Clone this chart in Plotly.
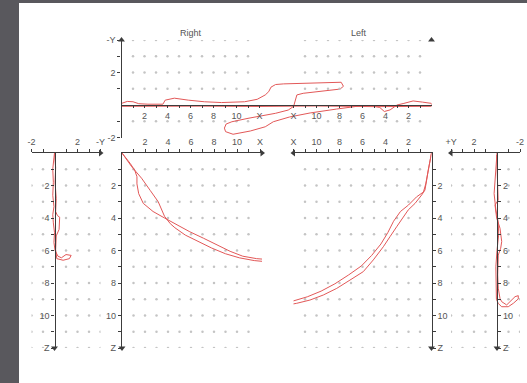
import numpy as np
import plotly.graph_objects as go

# ---------------- data ----------------
# Top panel (X-Y view). Right-eye units on x, left-eye units on x2
TOP_R_X = [0, 0.5, 1.0, 1.5, 2.3, 3.3, 3.6, 3.8, 4.6, 5.8, 7.2, 8.7, 10.7, 11.8,
           12.1, 12.5, 12.8, 13.0, 13.4, 14.1, 19.1, 19.3, 19.0, 15.8, 15.25, 15.1, 15.0,
           14.9, 14.5, 13.4, 12.5, 11.0, 9.6, 9.1, 8.95, 9.05, 9.7, 11.2, 12.5, 13.2,
           14.6, 16.4, 18.7, 20.7]
TOP_R_Y = [0.1, 0.22, 0.2, 0.08, 0.05, 0.02, 0.05, 0.3, 0.42, 0.3, 0.2, 0.15, 0.2, 0.35,
           0.45, 0.62, 0.82, 1.1, 1.26, 1.3, 1.4, 1.15, 0.98, 0.72, 0.62, 0.2, 0.0,
           -0.12, -0.31, -0.51, -0.62, -0.82, -1.03, -1.17, -1.42, -1.64, -1.8, -1.6, -1.34, -1.03,
           -0.74, -0.49, -0.25, -0.06]
TOP_L_X = [6.3, 5.2, 4.5, 4.1, 3.6, 3.0, 2.4, 1.6, 0.8, 0.3, 0.0, 0.0, 5, 10, 15, 20, 26.96]
TOP_L_Y = [-0.05, -0.05, -0.15, -0.4, -0.3, 0.0, 0.1, 0.25, 0.18, 0.12, 0.1, -0.08, -0.1, -0.06, -0.09, -0.07, -0.08]

# Bottom X-Z view, right eye (right-eye units)
XZ_R_X = [0, 0.4, 0.7, 1.1, 1.3, 1.3, 1.45, 1.85, 2.7, 3.7, 4.8, 5.9, 7.1, 8.2, 9.4, 10.5, 11.7,
          13.4, 14.9, 16.3, 17.8, 19.2,
          19.0, 17.5, 16.0, 14.5, 13.0, 11.5, 10.2, 9.0, 7.8, 6.6, 5.5, 4.6, 4.2, 3.7, 3.15,
          2.45, 1.7, 0.85, 0.25, 0]
XZ_R_Z = [0, 0.33, 0.63, 1.05, 1.46, 1.9, 2.5, 3.1, 3.6, 4.0, 4.45, 4.85, 5.25, 5.65, 6.05, 6.35, 6.5,
          6.6, 6.65, 6.55, 6.4, 6.25,
          6.35, 6.55, 6.72, 6.75, 6.72, 6.62, 6.45, 6.2, 5.85, 5.45, 5.05, 4.6, 4.35, 3.9, 3.0,
          2.3, 1.55, 0.85, 0.25, 0]

# Bottom X-Z view, left eye (left-eye units)
XZ_L_X = [0, 0.13, 0.28, 0.42, 0.57, 0.85, 1.43, 2.02, 2.45, 3.03, 3.61, 4.19, 5.06, 5.93, 7.09,
          8.24, 9.41, 10.57, 11.72, 12.89, 14.33, 15.78, 17.23, 17.96,
          17.9, 16.5, 15.0, 13.5, 12.0, 10.8, 9.6, 8.4, 7.2, 6.1, 5.2, 4.4, 3.8, 3.3, 2.7,
          2.0, 1.3, 0.7, 0.5, 0.35, 0.2, 0]
XZ_L_Z = [0, 0.43, 1.05, 1.66, 2.28, 2.58, 3.1, 3.5, 3.92, 4.54, 5.15, 5.77, 6.58, 7.3, 7.82,
          8.33, 8.74, 9.05, 9.25, 9.4, 9.35, 9.19, 8.94, 8.74,
          8.6, 8.95, 9.15, 9.25, 9.1, 8.85, 8.5, 8.05, 7.5, 6.95, 6.3, 5.6, 4.9, 4.2, 3.6,
          3.2, 2.7, 2.4, 1.9, 1.3, 0.6, 0]

# Left Y-Z view (right eye)
YZ_R_Y = [0, 0.1, 0.05, 0.15, 0.1, 0.25, 0.45, 0.4, 0.15, 0.15, 0.1, 0.2, 0.75, 1.3, 1.45, 1.0, 0.6, 0.3,
          0.05, -0.05, 0.0, -0.1, -0.15, -0.05, -0.15, -0.1, -0.15, -0.05, 0]
YZ_R_Z = [0, 0.9, 1.8, 2.8, 3.6, 3.85, 3.95, 4.7, 5.1, 5.6, 5.95, 6.5, 6.6, 6.5, 6.3, 6.25, 6.45, 6.35,
          6.0, 5.5, 4.9, 4.3, 3.8, 3.3, 2.6, 1.8, 1.0, 0.3, 0]

# Right Y-Z view (left eye)
YZ_L_Y = [0.03, -0.1, 0.17, 0.03, -0.26, -0.41, -0.32, -0.11, -0.06, -0.11, -0.26, -0.41, -0.84,
          -1.13, -1.57, -1.85, -1.85, -1.42, -0.98, -0.41, -0.11,
          0.05, 0.1, 0.1, 0.0, -0.15, -0.1, 0.1, 0.25, 0.15, 0.1, 0]
YZ_L_Z = [0.12, 2.9, 3.2, 4.0, 4.63, 5.45, 5.86, 6.28, 7.5, 8.32, 8.95, 9.15, 9.35,
          9.15, 8.84, 8.78, 8.98, 9.25, 9.46, 9.46, 9.26,
          9.0, 8.0, 7.0, 6.0, 5.0, 4.2, 3.5, 2.5, 1.5, 0.6, 0]

X_TICKS = list(range(1, 13))
X_LABELS = ['', '2', '', '4', '', '6', '', '8', '', '10', '', 'X']
Z_TICKS = list(range(1, 13))
Z_LABELS = ['', '2', '', '4', '', '6', '', '8', '', '10', '', 'Z']
Y_TICKS = [-2, -1, 1, 2, 3, 4]
Y_LABELS_NEG = ['-2', '', '', '2', '', '-Y']
Y_LABELS_POS = ['-2', '', '', '2', '', '+Y']

# ---------------- layout geometry ----------------
W, H = 527, 383
PXU = 11.5      # px per unit horizontally
def fx(px): return px / W
def fy(py): return 1 - py / H

TOP_SPAN = (431.5 - 121.5) / PXU
RED = 'rgb(226,88,88)'
AX = '#3c3c3c'
TXT = '#555555'
DOT = '#c4c4c4'
FONT = dict(family='Liberation Sans, Arial', size=9, color=TXT)

fig = go.Figure()

def line(x, y, xa, ya):
    fig.add_trace(go.Scatter(x=x, y=y, xaxis=xa, yaxis=ya, mode='lines',
                             line=dict(color=RED, width=1), hoverinfo='skip',
                             showlegend=False))

def dots(xs, ys, xa, ya):
    gx, gy = np.meshgrid(xs, ys)
    fig.add_trace(go.Scatter(x=gx.ravel(), y=gy.ravel(), xaxis=xa, yaxis=ya, mode='markers',
                             marker=dict(color=DOT, size=2.5, line=dict(width=0)),
                             hoverinfo='skip', showlegend=False))

def arrow(x, y, xa, ya, sym):
    fig.add_trace(go.Scatter(x=[x], y=[y], xaxis=xa, yaxis=ya, mode='markers',
                             marker=dict(color=AX, size=6, symbol=sym, line=dict(width=0)),
                             cliponaxis=False, hoverinfo='skip', showlegend=False))

units = np.arange(1, 12)
zrows = np.arange(1, 13)
yrows = np.array([-2, -1, 1, 2, 3, 4])
top_rows = np.array([-1, 1, 2, 3, 4])

# grid dots
dots(units, top_rows, 'x', 'y')
dots(units, top_rows, 'x2', 'y')
dots(units, zrows, 'x3', 'y3')
dots(units, zrows, 'x4', 'y4')
dots(yrows, zrows, 'x5', 'y5')
dots(yrows, zrows, 'x6', 'y6')

# traces
line(TOP_R_X, TOP_R_Y, 'x', 'y')
line(TOP_L_X, TOP_L_Y, 'x2', 'y')
line(XZ_R_X, XZ_R_Z, 'x3', 'y3')
line(XZ_L_X, XZ_L_Z, 'x4', 'y4')
line(YZ_R_Y, YZ_R_Z, 'x5', 'y5')
line(YZ_L_Y, YZ_L_Z, 'x6', 'y6')

# arrow heads at axis ends
arrow(0, 4, 'x', 'y', 'triangle-up')
arrow(0, 4, 'x2', 'y', 'triangle-up')
arrow(140 / PXU, 0, 'x3', 'y3', 'triangle-right')
arrow(0, 12, 'x3', 'y3', 'triangle-down')
arrow(12, 0, 'x4', 'y4', 'triangle-left')
arrow(0, 12, 'x4', 'y4', 'triangle-down')
arrow(4, 0, 'x5', 'y5', 'triangle-right')
arrow(0, 12, 'x5', 'y5', 'triangle-down')
arrow(4, 0, 'x6', 'y6', 'triangle-left')
arrow(0, 12, 'x6', 'y6', 'triangle-down')

common = dict(showgrid=False, zeroline=False, showline=True, linecolor=AX, linewidth=1.2,
              ticks='outside', ticklen=3, tickcolor=AX, tickwidth=1, tickfont=FONT,
              fixedrange=True, tickmode='array', automargin=False)

zdom = [fy(348), fy(153)]

fig.update_layout(
    template='none',
    width=W, height=H, autosize=False, margin=dict(l=0, r=0, t=0, b=0, pad=0),
    paper_bgcolor='#59585d', plot_bgcolor='rgba(0,0,0,0)',
    showlegend=False,
    xaxis=dict(common, domain=[fx(121.5), fx(431.5)], range=[0, TOP_SPAN], anchor='free',
               position=fy(105), side='bottom', tickvals=X_TICKS, ticktext=X_LABELS, ticklen=2),
    xaxis2=dict(common, domain=[fx(121.5), fx(431.5)], range=[TOP_SPAN, 0], anchor='free',
                position=fy(105), side='bottom', overlaying='x', tickvals=X_TICKS,
                ticktext=X_LABELS, ticklen=2),
    yaxis=dict(common, domain=[fy(137.5), fy(40)], range=[-2, 4], anchor='x', side='left',
               tickvals=Y_TICKS, ticktext=Y_LABELS_NEG),
    yaxis2=dict(common, range=[-2, 4], anchor='x', side='right', overlaying='y',
                tickvals=Y_TICKS, ticktext=Y_LABELS_POS),
    xaxis3=dict(common, domain=[fx(122), fx(262)], range=[0, 140 / PXU], anchor='y3',
                side='top', tickvals=X_TICKS, ticktext=X_LABELS),
    yaxis3=dict(common, domain=zdom, range=[12, 0], anchor='x3', side='left',
                tickvals=Z_TICKS, ticktext=Z_LABELS),
    xaxis4=dict(common, domain=[fx(293.5), fx(431.5)], range=[12, 0], anchor='y4',
                side='top', tickvals=X_TICKS, ticktext=X_LABELS),
    yaxis4=dict(common, domain=zdom, range=[12, 0], anchor='x4', side='right',
                tickvals=Z_TICKS, ticktext=Z_LABELS),
    xaxis5=dict(common, domain=[fx(31.5), fx(100.5)], range=[-2, 4], anchor='y5',
                side='top', tickvals=Y_TICKS, ticktext=Y_LABELS_NEG),
    yaxis5=dict(common, domain=zdom, range=[12, 0], anchor='free', position=fx(54.5),
                side='left', tickvals=Z_TICKS, ticktext=Z_LABELS),
    xaxis6=dict(common, domain=[fx(451), fx(520)], range=[4, -2], anchor='y6',
                side='top', tickvals=Y_TICKS, ticktext=Y_LABELS_POS),
    yaxis6=dict(common, domain=zdom, range=[12, 0], anchor='free', position=fx(497),
                side='right', tickvals=Z_TICKS, ticktext=Z_LABELS),
    shapes=[dict(type='rect', xref='paper', yref='paper', x0=fx(19), x1=1, y0=0, y1=fy(3),
                 fillcolor='white', line=dict(width=0), layer='below')],
    annotations=[
        dict(text='Right', xref='x', yref='paper', x=6, y=fy(26), showarrow=False,
             font=FONT),
        dict(text='Left', xref='x2', yref='paper', x=6.3, y=fy(26), showarrow=False,
             font=FONT),
    ],
)

fig.write_html('out.html', config={'displayModeBar': False, 'responsive': False},
               post_script="document.body.style.margin='0';document.body.style.padding='0';"
                           "document.body.style.overflow='hidden';")
